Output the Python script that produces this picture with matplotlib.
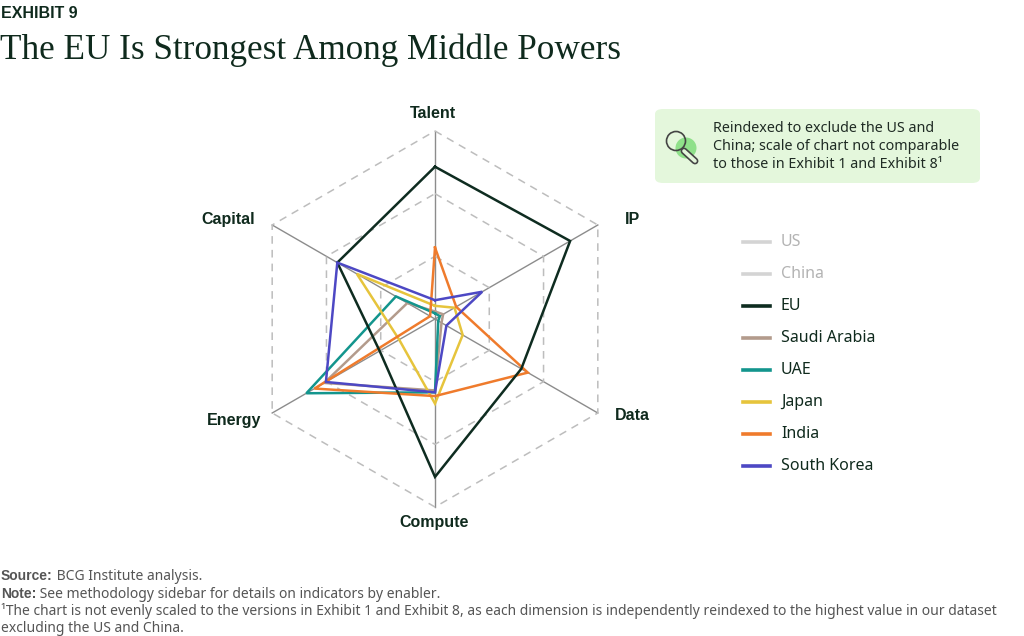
import numpy as np
import matplotlib
matplotlib.use("Agg")
import matplotlib.pyplot as plt
from matplotlib.patches import FancyBboxPatch, Ellipse
from matplotlib.lines import Line2D

# ---------------- data ----------------
axes_labels = ["Talent", "IP", "Data", "Compute", "Energy", "Capital"]
series_names = ["US", "China", "EU", "Saudi Arabia", "UAE", "Japan", "India", "South Korea"]
series_colors = ["#d4d4d4", "#d4d4d4", "#0e2c20", "#b39b8c", "#13958d", "#e6c43c", "#ef7b2c", "#4d48c4"]
visible = [False, False, True, True, True, True, True, True]

eu = [0.81, 0.83, 0.53, 0.84, 0.34, 0.60]
saudi_arabia = [0.04, 0.05, 0.04, 0.38, 0.68, 0.17]
uae = [0.03, 0.03, 0.02, 0.39, 0.79, 0.24]
japan = [0.07, 0.12, 0.17, 0.45, 0.22, 0.48]
india = [0.38, 0.13, 0.57, 0.41, 0.74, 0.03]
south_korea = [0.10, 0.29, 0.07, 0.39, 0.67, 0.60]
series_values = {"EU": eu, "Saudi Arabia": saudi_arabia, "UAE": uae,
                 "Japan": japan, "India": india, "South Korea": south_korea}
grid_levels = [1/3, 2/3, 1.0]

W, H = 1024, 636
fig = plt.figure(figsize=(W/100, H/100), dpi=100)
fig.patch.set_facecolor("white")

def fx(x):
    return x / W

def fy(y):
    return 1 - y / H

DARK = "#0f2a1d"
SANS = ["Noto Sans", "DejaVu Sans"]
BOLD = ["Liberation Sans", "DejaVu Sans"]

# ---------------- radar ----------------
cx, cy, R = 435, 319, 188
ax = fig.add_axes([fx(cx - R), fy(cy + R), 2*R/W, 2*R/H], projection="polar")
ax.set_theta_offset(np.pi/2)
ax.set_theta_direction(-1)
ax.set_ylim(0, 1)
ax.grid(False)
ax.set_xticks([])
ax.set_yticks([])
ax.spines["polar"].set_visible(False)
ax.patch.set_alpha(0)

n = len(axes_labels)
ang = np.arange(n) * 2*np.pi/n
ang_c = np.append(ang, ang[0])

for a in ang:
    ax.plot([a, a], [0, 1], color="#8c8c8c", lw=1.0, clip_on=False, zorder=1)
for lv in grid_levels:
    ax.plot(ang_c, [lv]*(n+1), color="#bdbdbd", lw=1.1, ls=(0, (5, 4)), clip_on=False, zorder=1)

draw_order = ["Saudi Arabia", "UAE", "Japan", "India", "EU", "South Korea"]
for name in draw_order:
    vals = series_values[name]
    col = series_colors[series_names.index(name)]
    ax.plot(ang_c, vals + vals[:1], color=col, lw=1.8, clip_on=False, zorder=3,
            solid_joinstyle="miter")

# axis labels
label_pos = {"Talent": (433, 113), "IP": (632, 219), "Data": (632, 416),
             "Compute": (434, 522), "Energy": (234, 420), "Capital": (228, 220)}
for lab in axes_labels:
    x, y = label_pos[lab]
    fig.text(fx(x), fy(y), lab, ha="center", va="center", fontsize=11.5,
             fontweight="bold", color=DARK, family=BOLD)

# ---------------- titles ----------------
fig.text(fx(1), fy(13), "EXHIBIT 9", ha="left", va="center", fontsize=11.5,
         fontweight="bold", color=DARK, family=BOLD)
fig.text(fx(0), fy(50), "The EU Is Strongest Among Middle Powers", ha="left", va="center",
         fontsize=25.3, color=DARK, family=["Liberation Serif", "DejaVu Serif"])

# ---------------- note box ----------------
box = FancyBboxPatch((fx(655), fy(183)), fx(980) - fx(655), fy(109) - fy(183),
                     boxstyle="round,pad=0,rounding_size=0.008",
                     transform=fig.transFigure, facecolor="#e4f7dc", edgecolor="none", zorder=0)
fig.add_artist(box)
note_lines = ["Reindexed to exclude the US and",
              "China; scale of chart not comparable",
              "to those in Exhibit 1 and Exhibit 8¹"]
for i, t in enumerate(note_lines):
    fig.text(fx(713), fy(128 + i*18.5), t, ha="left", va="center", fontsize=10.3,
             color="#1f2b24", family=SANS)
# magnifier icon
fig.add_artist(Ellipse((fx(686), fy(148)), 21/W, 21/H, transform=fig.transFigure,
                       facecolor="#8fe08a", edgecolor="none"))
fig.add_artist(Line2D([fx(684), fx(695)], [fy(151), fy(161)], transform=fig.transFigure,
                      color="#444444", lw=5, solid_capstyle="round"))
fig.add_artist(Line2D([fx(684), fx(695)], [fy(151), fy(161)], transform=fig.transFigure,
                      color="#e4f7dc", lw=2.6, solid_capstyle="round"))
fig.add_artist(Ellipse((fx(676), fy(141)), 19/W, 19/H, transform=fig.transFigure,
                       facecolor="none", edgecolor="#444444", lw=1.2))

# ---------------- legend ----------------
for i, (name, col, vis) in enumerate(zip(series_names, series_colors, visible)):
    y = 242 + i*32
    fig.add_artist(Line2D([fx(743), fx(770)], [fy(y), fy(y)], transform=fig.transFigure,
                          color=col, lw=2.6))
    fig.text(fx(781), fy(y), name, ha="left", va="center", fontsize=11.5,
             color=DARK if vis else "#b3b3b3", family=SANS)

# ---------------- footer ----------------
foot = [("Source:", " BCG Institute analysis."),
        ("Note:", " See methodology sidebar for details on indicators by enabler."),
        ("", "¹The chart is not evenly scaled to the versions in Exhibit 1 and Exhibit 8, as each dimension is independently reindexed to the highest value in our dataset"),
        ("", "excluding the US and China.")]
for i, (b, t) in enumerate(foot):
    y = 580 + i*17.5
    if b:
        tb = fig.text(fx(1), fy(y), b, ha="left", va="baseline", fontsize=10,
                      fontweight="bold", color="#555555", family=BOLD)
        fig.canvas.draw()
        bb = tb.get_window_extent()
        fig.text(bb.x1 / W, fy(y), t, ha="left", va="baseline", fontsize=10,
                 color="#555555", family=SANS)
    else:
        fig.text(fx(1), fy(y), t, ha="left", va="baseline", fontsize=10,
                 color="#555555", family=SANS)

fig.savefig("out.png", dpi=100, facecolor="white")
